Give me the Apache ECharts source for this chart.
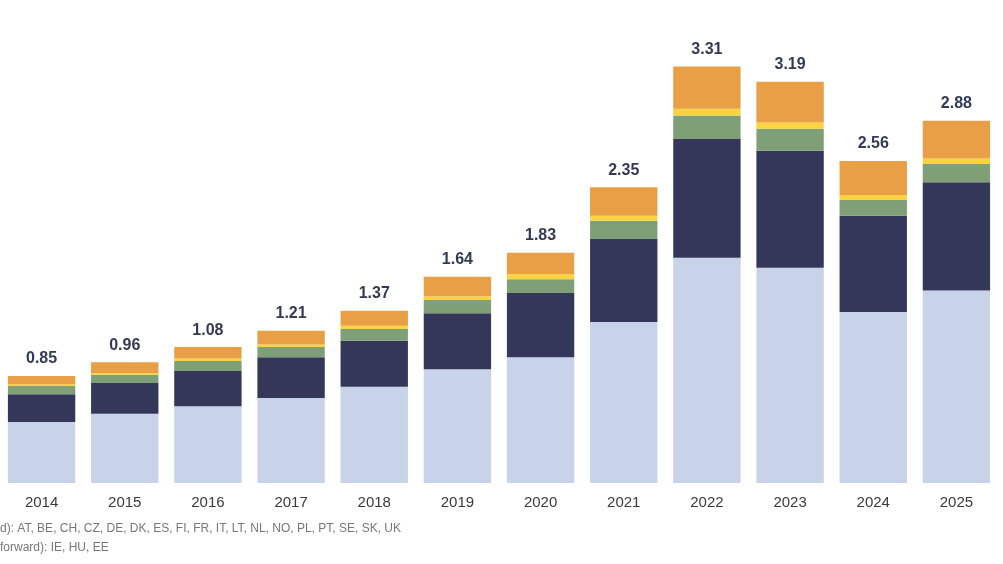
<!DOCTYPE html>
<html><head><meta charset="utf-8">
<script src="https://cdn.jsdelivr.net/npm/echarts@6/dist/echarts.min.js"></script>
<style>html,body{margin:0;padding:0;background:#fff}#c{width:1003px;height:564px}</style>
</head><body><div id="c"></div>
<script>
const years = ['2014','2015','2016','2017','2018','2019','2020','2021','2022','2023','2024','2025'];
const totals = [0.85,0.96,1.08,1.21,1.37,1.64,1.83,2.35,3.31,3.19,2.56,2.88];
const light  = [0.485,0.55,0.61,0.675,0.765,0.905,1.00,1.28,1.79,1.71,1.36,1.53];
const navy   = [0.22,0.245,0.28,0.325,0.365,0.445,0.51,0.66,0.945,0.93,0.765,0.86];
const green  = [0.065,0.065,0.08,0.08,0.095,0.105,0.11,0.145,0.185,0.175,0.125,0.145];
const yellow = [0.015,0.015,0.02,0.02,0.025,0.03,0.04,0.04,0.055,0.05,0.04,0.045];
const orange = [0.065,0.085,0.09,0.11,0.12,0.155,0.17,0.225,0.335,0.325,0.27,0.30];
const footnotes = ['d): AT, BE, CH, CZ, DE, DK, ES, FI, FR, IT, LT, NL, NO, PL, PT, SE, SK, UK','forward): IE, HU, EE'];
const chart = echarts.init(document.getElementById('c'));
const mk = (name, data, color) => ({name, type:'bar', stack:'s', data, barCategoryGap:'19%', itemStyle:{color}, silent:true});
const topSeries = mk('orange', orange, '#e89f45');
topSeries.label = {show:true, position:'top', distance:9, formatter:p=>totals[p.dataIndex].toFixed(2), fontFamily:'Liberation Sans, Arial', fontWeight:'bold', fontSize:16, color:'#333a55'};
chart.setOption({
  animation:false,
  grid:{left:0, right:5, top:20, bottom:81},
  xAxis:{type:'category', data:years, axisLine:{show:false}, axisTick:{show:false},
    axisLabel:{fontFamily:'Liberation Sans, Arial', fontSize:15, color:'#3a3a3a', margin:12}},
  yAxis:{type:'value', min:0, max:3.68, show:false, splitLine:{show:false}},
  series:[mk('light', light, '#c8d2e8'), mk('navy', navy, '#35375a'), mk('green', green, '#7fa077'), mk('yellow', yellow, '#fad33f'), topSeries],
  graphic: footnotes.map((t,i)=>({type:'text', left:0, top:523+i*19, style:{text:t, font:'12px Liberation Sans, Arial', fill:'#777'}}))
});
</script></body></html>
